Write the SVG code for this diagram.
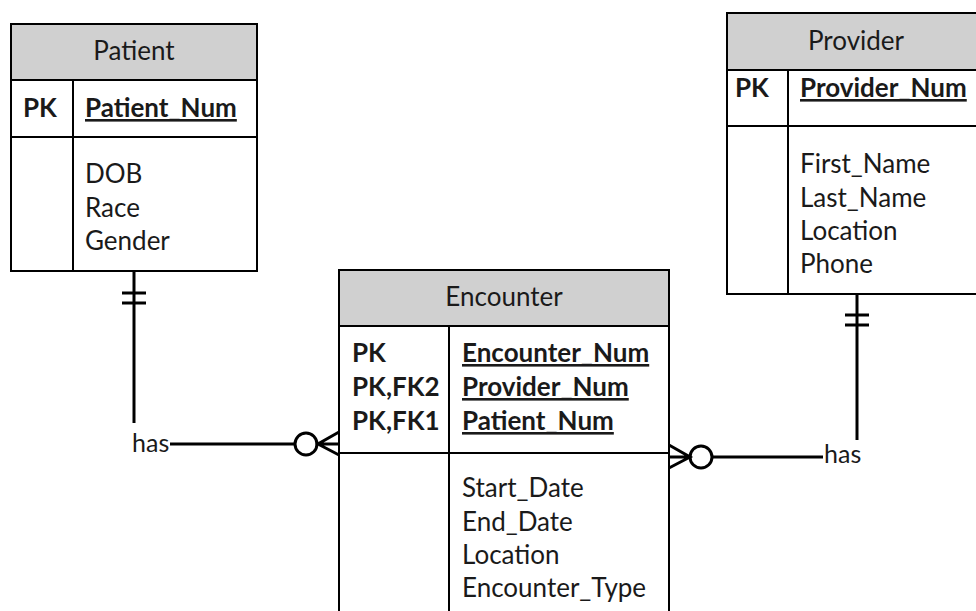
<svg xmlns="http://www.w3.org/2000/svg" width="976" height="611" viewBox="0 0 976 611">
  <style>
    .hdr { fill: #d0d0d0; stroke: #000; stroke-width: 2; }
    .body { fill: #fff; stroke: #000; stroke-width: 2; }
    .rule { stroke: #000; stroke-width: 2; fill: none; }
    .conn { stroke: #000; stroke-width: 3; fill: none; }
    text { font-family: Lato, "Open Sans", sans-serif; font-size: 26px; fill: #1a1a1a; }
    .title { text-anchor: middle; }
    .key { font-weight: bold; }
    .pkname { font-weight: bold; text-decoration: underline; }
    .lbl { font-size: 25px; }
  </style>

  <!-- Patient table -->
  <g id="patient">
    <rect class="body" x="11" y="80" width="246" height="191"/>
    <rect class="hdr" x="11" y="24" width="246" height="56"/>
    <line class="rule" x1="11" y1="137" x2="257" y2="137"/>
    <line class="rule" x1="73" y1="80" x2="73" y2="271"/>
    <text class="title" x="134" y="60">Patient</text>
    <text class="key" x="23" y="117">PK</text>
    <text class="pkname" x="85" y="117">Patient_Num</text>
    <text x="85" y="183">DOB</text>
    <text x="85" y="217">Race</text>
    <text x="85" y="250">Gender</text>
  </g>

  <!-- Provider table -->
  <g id="provider">
    <rect class="body" x="727" y="70" width="259" height="224"/>
    <rect class="hdr" x="727" y="13" width="259" height="57"/>
    <line class="rule" x1="727" y1="126" x2="986" y2="126"/>
    <line class="rule" x1="788" y1="70" x2="788" y2="294"/>
    <text class="title" x="856" y="50">Provider</text>
    <text class="key" x="735" y="97">PK</text>
    <text class="pkname" x="800" y="97">Provider_Num</text>
    <text x="800" y="173">First_Name</text>
    <text x="800" y="207">Last_Name</text>
    <text x="800" y="240">Location</text>
    <text x="800" y="273">Phone</text>
  </g>

  <!-- Encounter table -->
  <g id="encounter">
    <rect class="body" x="339" y="326" width="330" height="300"/>
    <rect class="hdr" x="339" y="270" width="330" height="56"/>
    <line class="rule" x1="339" y1="453" x2="669" y2="453"/>
    <line class="rule" x1="449" y1="326" x2="449" y2="626"/>
    <text class="title" x="504" y="306">Encounter</text>
    <text class="key" x="352" y="362">PK</text>
    <text class="key" x="352" y="396">PK,FK2</text>
    <text class="key" x="352" y="430">PK,FK1</text>
    <text class="pkname" x="462" y="362">Encounter_Num</text>
    <text class="pkname" x="462" y="396">Provider_Num</text>
    <text class="pkname" x="462" y="430">Patient_Num</text>
    <text x="462" y="497">Start_Date</text>
    <text x="462" y="531">End_Date</text>
    <text x="462" y="564">Location</text>
    <text x="462" y="597">Encounter_Type</text>
  </g>

  <!-- Relationships -->
  <g id="connectors">
    <!-- Patient (one) to Encounter (zero or many) -->
    <g id="patient-encounter">
      <path class="conn" d="M134 271 V423"/>
      <path class="conn" d="M122 293 H146 M122 303 H146"/>
      <text class="lbl" x="132" y="452">has</text>
      <path class="conn" d="M170 444 H295"/>
      <circle class="conn" cx="306" cy="444" r="11"/>
      <path class="conn" d="M339 432 L318 444 L339 455 M318 444 H339"/>
    </g>
    <!-- Provider (one) to Encounter (zero or many) -->
    <g id="provider-encounter">
      <path class="conn" d="M857 294 V440"/>
      <path class="conn" d="M845 315 H869 M845 325 H869"/>
      <text class="lbl" x="824" y="463">has</text>
      <path class="conn" d="M713 457 H823"/>
      <circle class="conn" cx="701" cy="457" r="11"/>
      <path class="conn" d="M669 445 L690 457 L669 468 M669 457 H690"/>
    </g>
  </g>
</svg>
